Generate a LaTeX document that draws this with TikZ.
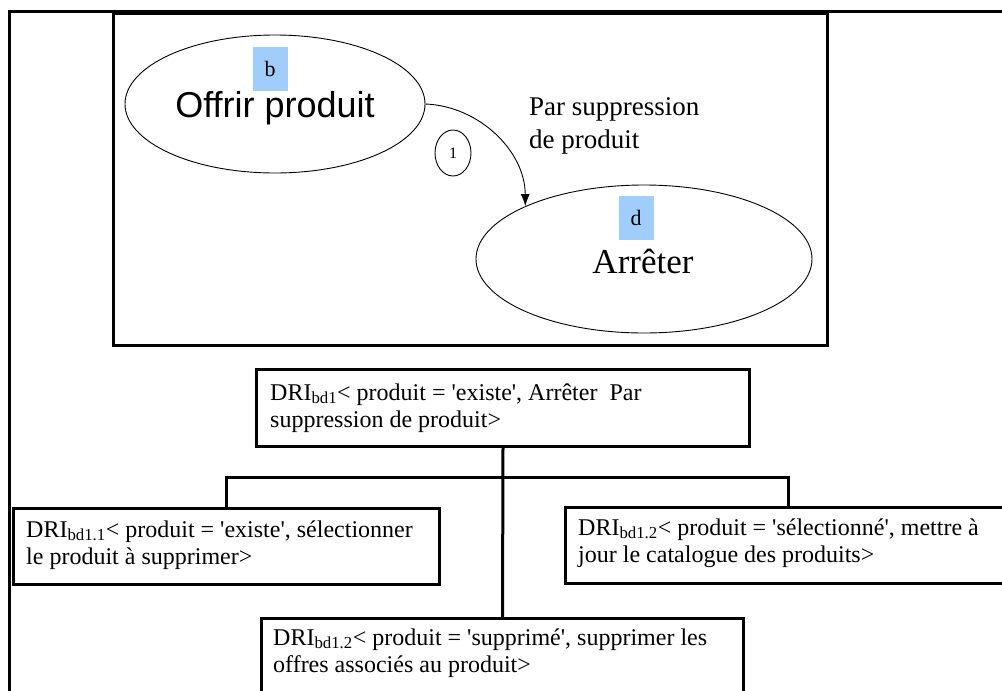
\documentclass[tikz,border=0pt]{standalone}
\usepackage{fontspec}
\setmainfont{Liberation Serif}
\newfontfamily\arialf{Liberation Sans}
\usetikzlibrary{shapes.geometric,arrows.meta}
\definecolor{lblue}{RGB}{160,205,250}
\tikzset{
  frame/.style={line width=3pt},
  bigbox/.style={draw, line width=3pt, minimum width=714pt, minimum height=332pt, inner sep=0pt},
  oval/.style={draw, ellipse, line width=0.9pt, inner sep=0pt},
  tag/.style={fill=lblue, inner sep=0pt, minimum width=35pt, minimum height=44pt, font=\fontsize{22}{24}\selectfont},
  drbox/.style={draw, line width=3pt, anchor=north west, inner sep=0pt},
  drtext/.style={anchor=base west, inner sep=0pt, font=\fontsize{24}{27}\selectfont},
  conn/.style={line width=3pt},
  flow/.style={line width=0.9pt, -{Latex[length=12pt,width=9pt]}},
}
\newcommand{\qt}{\textquotesingle}
\begin{document}
\begin{tikzpicture}[x=1pt,y=-1pt]
\useasboundingbox (0,0) rectangle (1002,691);
\clip (0,0) rectangle (1002,691);
% outer frame (partial)
\coordinate (fbl) at (9,693);
\coordinate (ftl) at (9,11);
\coordinate (ftr) at (1004,11);
\draw[frame] (fbl) -- (ftl) -- (ftr);
% inner box
\node[bigbox] (inner) at (470,179) {};
% ellipses
\node[oval, minimum width=300pt, minimum height=138pt] (b) at (275,104) {};
\node[tag] (tb) at (270,69) {b};
\node[font=\arialf\fontsize{36}{40}\selectfont, anchor=base, inner sep=0pt] (lb) at (275,117) {Offrir produit};
\node[oval, minimum width=336pt, minimum height=148pt] (d) at (644,259) {};
\node[tag] (td) at (636,218) {d};
\node[font=\fontsize{35}{38}\selectfont, anchor=base, inner sep=0pt] (ld) at (643,273) {Arrêter};
% transition
\draw[flow] (b.east) .. controls (478,106) and (525,150) .. (d.156);
\node[oval, minimum width=36pt, minimum height=46pt, font=\fontsize{16}{18}\selectfont] (one) at (453,153) {1};
\node[anchor=base west, inner sep=0pt, font=\fontsize{27}{33}\selectfont] (lab) at (529,115)
  {\begin{tabular}[t]{@{}l@{}}Par suppression\\de produit\end{tabular}};
% DRI boxes
\node[drbox, minimum width=493pt, minimum height=77pt] (top) at (255,368) {};
\node[drtext] (ttop) at (270,400) {\begin{tabular}[t]{@{}l@{}}DRI\textsubscript{bd1}< produit = \qt existe\qt, Arrêter\ \ Par\\suppression de produit>\end{tabular}};
\node[drbox, minimum width=426pt, minimum height=76pt] (left) at (12,507) {};
\node[drtext] (tleft) at (26,537) {\begin{tabular}[t]{@{}l@{}}DRI\textsubscript{bd1.1}< produit = \qt existe\qt, sélectionner\\le produit à supprimer>\end{tabular}};
\node[drbox, minimum width=446pt, minimum height=76pt] (right) at (564,506) {};
\node[drtext] (tright) at (578,535) {\begin{tabular}[t]{@{}l@{}}DRI\textsubscript{bd1.2}< produit = \qt sélectionné\qt, mettre à\\jour le catalogue des produits>\end{tabular}};
\node[drbox, minimum width=482pt, minimum height=110pt] (bot) at (260,617) {};
\node[drtext] (tbot) at (273,645) {\begin{tabular}[t]{@{}l@{}}DRI\textsubscript{bd1.2}< produit = \qt supprimé\qt, supprimer les\\offres associés au produit>\end{tabular}};
% connectors
\draw[conn] (top.south) -- (bot.north);
\draw[conn] (left.north) -- ++(0,-30) -| (right.north);
\end{tikzpicture}
\end{document}
